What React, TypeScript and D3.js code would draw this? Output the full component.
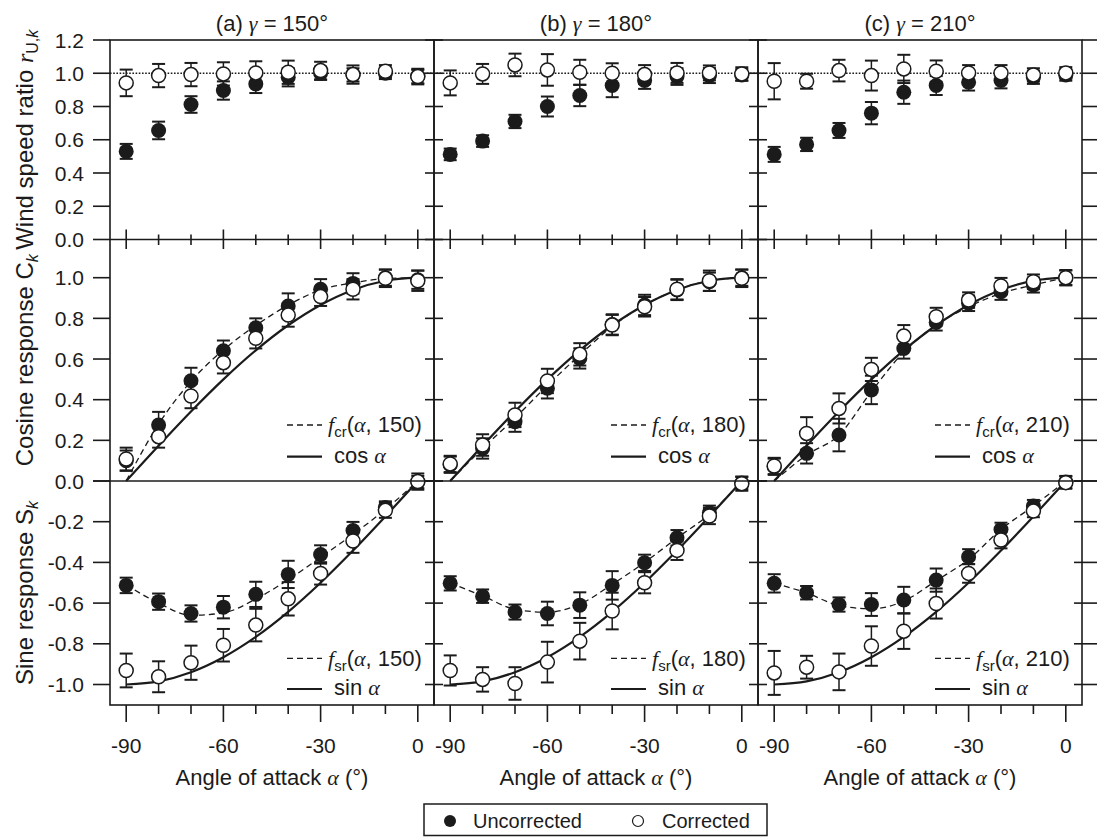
import React from 'react';
import * as d3 from 'd3';

// ---------- data ----------
const alphas = [-90, -80, -70, -60, -50, -40, -30, -20, -10, 0];
const gammas = [150, 180, 210];
const panelTags = ['(a)', '(b)', '(c)'];
const majorTicks = [-90, -60, -30, 0];
const minorTicks = [-80, -70, -50, -40, -20, -10];
const row1Ticks = [0, 0.2, 0.4, 0.6, 0.8, 1.0, 1.2];
const row2Ticks = [0, 0.2, 0.4, 0.6, 0.8, 1.0];
const row3Ticks = [0, -0.2, -0.4, -0.6, -0.8, -1.0];

// Row 1: wind speed ratio
const ratioUnc150 = [0.53, 0.656, 0.812, 0.896, 0.936, 0.976, 1.0, 0.99, 1.0, 0.98];
const ratioUncErr150 = [0.045, 0.053, 0.05, 0.055, 0.055, 0.055, 0.04, 0.04, 0.035, 0.04];
const ratioCor150 = [0.942, 0.986, 0.992, 0.996, 1.002, 1.006, 1.016, 0.992, 1.012, 0.98];
const ratioCorErr150 = [0.08, 0.07, 0.07, 0.07, 0.07, 0.07, 0.053, 0.055, 0.037, 0.047];

const ratioUnc180 = [0.512, 0.592, 0.71, 0.8, 0.866, 0.926, 0.956, 0.98, 0.986, 0.99];
const ratioUncErr180 = [0.035, 0.035, 0.04, 0.06, 0.064, 0.07, 0.05, 0.05, 0.045, 0.035];
const ratioCor180 = [0.942, 0.996, 1.05, 1.02, 1.006, 1.0, 0.992, 1.002, 1.002, 0.996];
const ratioCorErr180 = [0.075, 0.06, 0.068, 0.095, 0.075, 0.06, 0.057, 0.06, 0.045, 0.04];

const ratioUnc210 = [0.512, 0.572, 0.656, 0.76, 0.886, 0.926, 0.946, 0.956, 0.976, 0.99];
const ratioUncErr210 = [0.045, 0.04, 0.045, 0.067, 0.07, 0.057, 0.05, 0.047, 0.04, 0.035];
const ratioCor210 = [0.952, 0.952, 1.016, 0.986, 1.026, 1.012, 1.002, 1.002, 0.99, 1.002];
const ratioCorErr210 = [0.109, 0.045, 0.065, 0.09, 0.085, 0.065, 0.047, 0.047, 0.04, 0.035];

// Row 2: cosine response
const cosUnc150 = [0.1, 0.275, 0.493, 0.641, 0.754, 0.861, 0.943, 0.972, 1.0, 0.99];
const cosUncErr150 = [0.05, 0.065, 0.064, 0.05, 0.046, 0.062, 0.05, 0.05, 0.04, 0.045];
const cosCor150 = [0.108, 0.218, 0.418, 0.582, 0.702, 0.816, 0.907, 0.943, 0.997, 0.985];
const cosCorErr150 = [0.056, 0.054, 0.06, 0.053, 0.05, 0.057, 0.046, 0.05, 0.043, 0.05];
const fcr150 = [0.0, 0.28, 0.49, 0.645, 0.765, 0.865, 0.94, 0.975, 0.995, 1.0];

const cosUnc180 = [0.08, 0.16, 0.292, 0.456, 0.603, 0.77, 0.866, 0.94, 0.98, 1.0];
const cosUncErr180 = [0.04, 0.05, 0.05, 0.05, 0.05, 0.05, 0.05, 0.05, 0.045, 0.04];
const cosCor180 = [0.084, 0.177, 0.325, 0.492, 0.623, 0.767, 0.857, 0.943, 0.985, 0.997];
const cosCorErr180 = [0.04, 0.053, 0.06, 0.06, 0.055, 0.05, 0.048, 0.05, 0.05, 0.043];
const fcr180 = [0.0, 0.16, 0.31, 0.47, 0.62, 0.76, 0.865, 0.94, 0.985, 1.0];

const cosUnc210 = [0.07, 0.136, 0.226, 0.448, 0.652, 0.78, 0.874, 0.931, 0.964, 1.0];
const cosUncErr210 = [0.04, 0.05, 0.08, 0.07, 0.05, 0.04, 0.038, 0.04, 0.037, 0.035];
const cosCor210 = [0.074, 0.234, 0.357, 0.549, 0.713, 0.808, 0.89, 0.959, 0.98, 1.0];
const cosCorErr210 = [0.04, 0.08, 0.074, 0.057, 0.054, 0.044, 0.038, 0.04, 0.036, 0.038];
const fcr210 = [0.0, 0.128, 0.226, 0.44, 0.635, 0.767, 0.857, 0.923, 0.964, 1.0];

const cosAlpha = [0.0, 0.1736, 0.342, 0.5, 0.6428, 0.766, 0.866, 0.9397, 0.9848, 1.0];

// Row 3: sine response
const sinUnc150 = [-0.513, -0.593, -0.651, -0.62, -0.557, -0.459, -0.361, -0.243, -0.13, -0.005];
const sinUncErr150 = [0.038, 0.04, 0.04, 0.055, 0.062, 0.067, 0.045, 0.042, 0.03, 0.03];
const sinCor150 = [-0.931, -0.962, -0.893, -0.807, -0.708, -0.579, -0.454, -0.295, -0.144, -0.003];
const sinCorErr150 = [0.083, 0.076, 0.084, 0.08, 0.08, 0.082, 0.055, 0.058, 0.037, 0.04];
const fsr150 = [-0.51, -0.6, -0.66, -0.648, -0.58, -0.485, -0.375, -0.262, -0.14, 0.0];

const sinUnc180 = [-0.503, -0.566, -0.644, -0.651, -0.61, -0.513, -0.402, -0.279, -0.156, -0.01];
const sinUncErr180 = [0.035, 0.033, 0.037, 0.058, 0.063, 0.07, 0.04, 0.038, 0.035, 0.03];
const sinCor180 = [-0.931, -0.975, -0.995, -0.89, -0.787, -0.639, -0.5, -0.341, -0.172, -0.013];
const sinCorErr180 = [0.074, 0.06, 0.08, 0.1, 0.09, 0.09, 0.052, 0.047, 0.04, 0.035];
const fsr180 = [-0.5, -0.565, -0.63, -0.645, -0.605, -0.508, -0.4, -0.28, -0.163, 0.0];

const sinUnc210 = [-0.503, -0.549, -0.607, -0.607, -0.585, -0.487, -0.372, -0.238, -0.123, -0.005];
const sinUncErr210 = [0.045, 0.033, 0.035, 0.056, 0.065, 0.057, 0.037, 0.033, 0.03, 0.03];
const sinCor210 = [-0.943, -0.915, -0.938, -0.811, -0.738, -0.602, -0.454, -0.29, -0.148, -0.008];
const sinCorErr210 = [0.108, 0.056, 0.09, 0.097, 0.087, 0.074, 0.046, 0.041, 0.03, 0.03];
const fsr210 = [-0.503, -0.55, -0.612, -0.628, -0.59, -0.49, -0.385, -0.238, -0.123, 0.0];

const sinAlpha = [-1.0, -0.9848, -0.9397, -0.866, -0.766, -0.6428, -0.5, -0.342, -0.1736, 0.0];

// ---------- layout ----------
const W = 1097;
const H = 837;
const PW = 324;
const xLefts = [110, 434, 758];
const TOP = 40;
const ROW12 = 239.5;
const ROW23 = 481;
const BOTTOM = 705;
const INK = '#1b1b1b';
const SANS = "'Liberation Sans', Arial, Helvetica, sans-serif";
const SERIF = "'Liberation Serif', 'Times New Roman', serif";

const yR1 = d3.scaleLinear().domain([0, 1.2]).range([ROW12, TOP]);
const yR2 = d3.scaleLinear().domain([0, 1]).range([ROW23, 277.7]);
const yR3 = d3.scaleLinear().domain([-1, 0]).range([684.5, ROW23]);

const rows = [
  {
    y: yR1,
    unc: [ratioUnc150, ratioUnc180, ratioUnc210],
    uncErr: [ratioUncErr150, ratioUncErr180, ratioUncErr210],
    cor: [ratioCor150, ratioCor180, ratioCor210],
    corErr: [ratioCorErr150, ratioCorErr180, ratioCorErr210],
  },
  {
    y: yR2,
    unc: [cosUnc150, cosUnc180, cosUnc210],
    uncErr: [cosUncErr150, cosUncErr180, cosUncErr210],
    cor: [cosCor150, cosCor180, cosCor210],
    corErr: [cosCorErr150, cosCorErr180, cosCorErr210],
    fit: [fcr150, fcr180, fcr210],
    ref: cosAlpha,
  },
  {
    y: yR3,
    unc: [sinUnc150, sinUnc180, sinUnc210],
    uncErr: [sinUncErr150, sinUncErr180, sinUncErr210],
    cor: [sinCor150, sinCor180, sinCor210],
    corErr: [sinCorErr150, sinCorErr180, sinCorErr210],
    fit: [fsr150, fsr180, fsr210],
    ref: sinAlpha,
  },
];

function ErrBar({ x, y0, y1 }: { x: number; y0: number; y1: number }) {
  return (
    <g stroke={INK}>
      <line x1={x} x2={x} y1={y0} y2={y1} strokeWidth={1.5} />
      <line x1={x - 6.5} x2={x + 6.5} y1={y0} y2={y0} strokeWidth={2} />
      <line x1={x - 6.5} x2={x + 6.5} y1={y1} y2={y1} strokeWidth={2} />
    </g>
  );
}

export default function App() {
  const xScales = xLefts.map((l) => d3.scaleLinear().domain([-95, 5]).range([l, l + PW]));
  const right = xLefts[2] + PW;

  const panels: any[] = [];
  rows.forEach((row, ri) => {
    xScales.forEach((x, ci) => {
      const y = row.y;
      const line = d3
        .line<number>()
        .x((_, i) => x(alphas[i]))
        .y((d) => y(d))
        .curve(d3.curveMonotoneX);
      const els: any[] = [];
      if (row.ref) {
        els.push(
          <path key="ref" d={line(row.ref) || ''} fill="none" stroke={INK} strokeWidth={2.2} />
        );
      }
      if (row.fit) {
        els.push(
          <path
            key="fit"
            d={line(row.fit[ci]) || ''}
            fill="none"
            stroke={INK}
            strokeWidth={1.3}
            strokeDasharray="6,4"
          />
        );
      }
      const unc = row.unc[ci];
      const uncE = row.uncErr[ci];
      const cor = row.cor[ci];
      const corE = row.corErr[ci];
      alphas.forEach((a, i) => {
        els.push(
          <ErrBar key={'ue' + i} x={x(a)} y0={y(unc[i] + uncE[i])} y1={y(unc[i] - uncE[i])} />
        );
        els.push(<circle key={'um' + i} cx={x(a)} cy={y(unc[i])} r={7.5} fill={INK} />);
      });
      alphas.forEach((a, i) => {
        els.push(
          <ErrBar key={'ce' + i} x={x(a)} y0={y(cor[i] + corE[i])} y1={y(cor[i] - corE[i])} />
        );
        els.push(
          <circle
            key={'cm' + i}
            cx={x(a)}
            cy={y(cor[i])}
            r={7}
            fill="#fff"
            stroke={INK}
            strokeWidth={1.5}
          />
        );
      });
      panels.push(<g key={`p${ri}-${ci}`}>{els}</g>);
    });
  });

  // Y ticks
  const yTickEls: any[] = [];
  const tickSets = [
    { y: yR1, ticks: row1Ticks, row: 0 },
    { y: yR2, ticks: row2Ticks, row: 1 },
    { y: yR3, ticks: row3Ticks, row: 2 },
  ];
  tickSets.forEach(({ y, ticks, row }) => {
    ticks.forEach((t) => {
      const yy = y(t);
      yTickEls.push(
        <line key={`l${row}-${t}`} x1={xLefts[0] - 17} x2={xLefts[0]} y1={yy} y2={yy} />
      );
      [xLefts[1], xLefts[2]].forEach((bx) =>
        yTickEls.push(<line key={`m${row}-${t}-${bx}`} x1={bx - 9} x2={bx + 9} y1={yy} y2={yy} />)
      );
      yTickEls.push(
        <line
          key={`r${row}-${t}`}
          x1={row === 0 ? right : right - 8}
          x2={right + 16}
          y1={yy}
          y2={yy}
        />
      );
    });
  });

  // Y tick labels
  const yLabelEls: any[] = [];
  row1Ticks.forEach((t) =>
    yLabelEls.push(
      <text key={`a${t}`} x={84} y={yR1(t) + 7.5} textAnchor="end">
        {t.toFixed(1)}
      </text>
    )
  );
  row2Ticks.forEach((t) =>
    yLabelEls.push(
      <text key={`b${t}`} x={84} y={yR2(t) + 7.5} textAnchor="end">
        {t.toFixed(1)}
      </text>
    )
  );
  row3Ticks
    .filter((t) => t !== 0)
    .forEach((t) =>
      yLabelEls.push(
        <text key={`c${t}`} x={84} y={yR3(t) + 7.5} textAnchor="end">
          {t.toFixed(1)}
        </text>
      )
    );

  // X ticks
  const xTickEls: any[] = [];
  xScales.forEach((x, ci) => {
    majorTicks.forEach((t) => {
      xTickEls.push(
        <line key={`mt${ci}${t}`} x1={x(t)} x2={x(t)} y1={ROW12 - 10} y2={ROW12 + 9.5} />
      );
      xTickEls.push(
        <line key={`mb${ci}${t}`} x1={x(t)} x2={x(t)} y1={BOTTOM} y2={BOTTOM + 17} />
      );
    });
    minorTicks.forEach((t) => {
      xTickEls.push(
        <line key={`nt${ci}${t}`} x1={x(t)} x2={x(t)} y1={ROW12 - 5} y2={ROW12 + 5.5} />
      );
      xTickEls.push(
        <line key={`nb${ci}${t}`} x1={x(t)} x2={x(t)} y1={BOTTOM} y2={BOTTOM + 9} />
      );
    });
  });

  const legendLine = (R: number, yDash: number, ySolid: number, yT1: number, yT2: number, kind: string, g: number) => (
    <g key={`lg${kind}${g}`}>
      <line x1={R - 147} x2={R - 112} y1={yDash} y2={yDash} stroke={INK} strokeWidth={1.3} strokeDasharray="6,4" />
      <line x1={R - 147} x2={R - 112} y1={ySolid} y2={ySolid} stroke={INK} strokeWidth={2.2} />
      <text x={R - 106} y={yT1} fontSize={22}>
        <tspan fontFamily={SERIF} fontStyle="italic">f</tspan>
        <tspan fontSize={15} dy={5}>{kind}</tspan>
        <tspan dy={-5}>(</tspan>
        <tspan fontFamily={SERIF} fontStyle="italic">α</tspan>
        <tspan>, {g})</tspan>
      </text>
      <text x={R - 100} y={yT2} fontSize={22}>
        {kind === 'cr' ? 'cos ' : 'sin '}
        <tspan fontFamily={SERIF} fontStyle="italic">α</tspan>
      </text>
    </g>
  );

  return (
    <svg
      width={W}
      height={H}
      viewBox={`0 0 ${W} ${H}`}
      style={{ position: 'absolute', left: 0, top: 0, background: '#fff' }}
      fontFamily={SANS}
      fill={INK}
    >
      <rect x={0} y={0} width={W} height={H} fill="#fff" />
      {/* dotted reference line at 1.0 */}
      <line
        x1={xLefts[0]}
        x2={right}
        y1={yR1(1)}
        y2={yR1(1)}
        stroke={INK}
        strokeWidth={1.6}
        strokeDasharray="1.6,1.6"
      />
      {panels}
      {/* frames */}
      <g stroke={INK} strokeWidth={1.6} fill="none">
        {xLefts.map((l) => (
          <rect key={l} x={l} y={TOP} width={PW} height={BOTTOM - TOP} />
        ))}
        <line x1={xLefts[0]} x2={right} y1={ROW12} y2={ROW12} />
        <line x1={xLefts[0]} x2={right} y1={ROW23} y2={ROW23} />
      </g>
      <g stroke={INK} strokeWidth={1.6}>
        {yTickEls}
        {xTickEls}
      </g>
      <g fontSize={21}>{yLabelEls}</g>
      {/* x tick labels */}
      <g fontSize={21} textAnchor="middle">
        {xScales.map((x, ci) =>
          majorTicks.map((t) => (
            <text key={`xl${ci}${t}`} x={x(t)} y={753}>
              {t}
            </text>
          ))
        )}
      </g>
      {/* x axis titles */}
      {xScales.map((x, ci) => (
        <text key={`xt${ci}`} x={(x.range()[0] + x.range()[1]) / 2} y={785} fontSize={22} textAnchor="middle">
          Angle of attack <tspan fontFamily={SERIF} fontStyle="italic">α</tspan> (°)
        </text>
      ))}
      {/* panel titles */}
      {xScales.map((x, ci) => (
        <text key={`tt${ci}`} x={(x.range()[0] + x.range()[1]) / 2} y={31} fontSize={22} textAnchor="middle">
          {panelTags[ci]} <tspan fontFamily={SERIF} fontStyle="italic">γ</tspan> = {gammas[ci]}°
        </text>
      ))}
      {/* y axis titles */}
      <text transform={`translate(33,${(TOP + ROW12) / 2}) rotate(-90)`} fontSize={24} textAnchor="middle">
        Wind speed ratio <tspan fontFamily={SERIF} fontStyle="italic">r</tspan>
        <tspan fontSize={16} dy={5}>U,</tspan>
        <tspan fontSize={16} fontStyle="italic">k</tspan>
      </text>
      <text transform={`translate(33,${(ROW12 + ROW23) / 2}) rotate(-90)`} fontSize={24} textAnchor="middle">
        Cosine response C<tspan fontSize={16} dy={5} fontStyle="italic">k</tspan>
      </text>
      <text transform={`translate(33,${(ROW23 + BOTTOM) / 2}) rotate(-90)`} fontSize={24} textAnchor="middle">
        Sine response S<tspan fontSize={16} dy={5} fontStyle="italic">k</tspan>
      </text>
      {/* in-panel legends */}
      {xLefts.map((l, ci) => legendLine(l + PW, 425, 456.7, 432, 463, 'cr', gammas[ci]))}
      {xLefts.map((l, ci) => legendLine(l + PW, 658.3, 689, 665.5, 695, 'sr', gammas[ci]))}
      {/* bottom legend */}
      <rect x={424} y={804} width={343} height={31.5} fill="#fff" stroke={INK} strokeWidth={1.5} />
      <circle cx={450} cy={821} r={6} fill={INK} />
      <text x={473} y={828} fontSize={20}>Uncorrected</text>
      <circle cx={638} cy={821} r={5.5} fill="#fff" stroke={INK} strokeWidth={1.2} />
      <text x={662} y={828} fontSize={20}>Corrected</text>
    </svg>
  );
}
